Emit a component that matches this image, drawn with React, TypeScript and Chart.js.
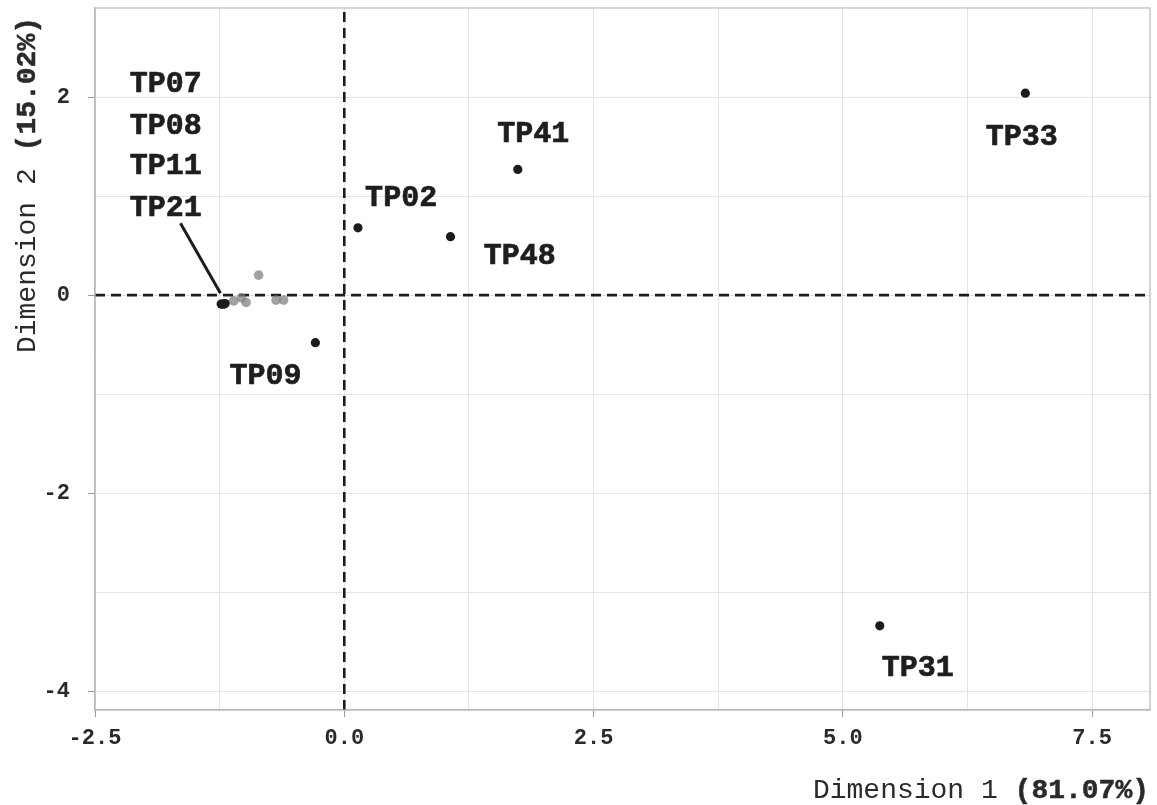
import React, { useEffect, useRef } from "react";
import { Chart, registerables } from "chart.js";

Chart.register(...registerables);

// Labelled (black) individuals
const blackNames = ["TP02", "TP09", "TP31", "TP33", "TP41", "TP48", "TP07", "TP08", "TP11", "TP21"];
const blackX = [0.137, -0.29, 5.37, 6.83, 1.74, 1.065, -1.235, -1.225, -1.205, -1.195];
const blackY = [0.68, -0.48, -3.34, 2.04, 1.27, 0.59, -0.09, -0.09, -0.09, -0.085];

// Unlabelled (grey) individuals
const greyX = [-1.109, -1.032, -0.985, -0.859, -0.684, -0.608];
const greyY = [-0.058, -0.027, -0.074, 0.202, -0.05, -0.05];

// Label texts and their anchor positions (data units, as placed by the repel step)
const labelTexts = ["TP07", "TP08", "TP11", "TP21", "TP41", "TP33", "TP02", "TP48", "TP09", "TP31"];
const labelX = [-1.79, -1.79, -1.79, -1.79, 1.894, 6.795, 0.57, 1.76, -0.79, 5.75];
const labelY = [2.14, 1.71, 1.31, 0.89, 1.635, 1.605, 0.99, 0.40, -0.81, -3.76];

// Leader segment for the TP07/TP08/TP11/TP21 group
const leaderX = [-1.643, -1.242];
const leaderY = [0.727, 0.02];

// Axis settings
const xMin = -2.5;
const xMax = 8.08;
const yMin = -4.19;
const yMax = 2.9;
const xStep = 1.25;
const yStep = 1;
const xTitleRegular = "Dimension 1 ";
const xTitleBold = "(81.07%)";
const yTitleRegular = "Dimension 2 ";
const yTitleBold = "(15.02%)";

const FONT = "'Liberation Mono', 'DejaVu Sans Mono', monospace";

export default function App() {
  const ref = useRef<HTMLCanvasElement | null>(null);

  useEffect(() => {
    document.body.style.margin = "0";
    const canvas = ref.current;
    if (!canvas) return;

    const isMajorX = (v: number) => Math.abs(v / 2.5 - Math.round(v / 2.5)) < 1e-6;
    const isMajorY = (v: number) => Math.abs(v / 2 - Math.round(v / 2)) < 1e-6;

    const overlay = {
      id: "overlay",
      afterDraw(chart: any) {
        const ctx = chart.ctx;
        const { left, right, top, bottom } = chart.chartArea;
        const xs = chart.scales.x;
        const ys = chart.scales.y;
        ctx.save();
        // panel border
        ctx.strokeStyle = "#b8b8b8";
        ctx.lineWidth = 1.2;
        ctx.strokeRect(left, top, right - left, bottom - top);

        // point labels
        ctx.fillStyle = "#1e1e1e";
        ctx.strokeStyle = "#1e1e1e";
        ctx.lineWidth = 0.7;
        ctx.font = `bold 30px ${FONT}`;
        ctx.textAlign = "center";
        ctx.textBaseline = "middle";
        for (let i = 0; i < labelTexts.length; i++) {
          const px = xs.getPixelForValue(labelX[i]);
          const py = ys.getPixelForValue(labelY[i]) + 1;
          ctx.fillText(labelTexts[i], px, py);
          ctx.strokeText(labelTexts[i], px, py);
        }

        // x title (right aligned, mixed weight)
        ctx.fillStyle = "#2a2a2a";
        ctx.strokeStyle = "#2a2a2a";
        ctx.lineWidth = 0.5;
        ctx.textBaseline = "alphabetic";
        ctx.textAlign = "left";
        ctx.font = `bold 28px ${FONT}`;
        const wb = ctx.measureText(xTitleBold).width;
        ctx.font = `28px ${FONT}`;
        const wr = ctx.measureText(xTitleRegular).width;
        const xEnd = 1149;
        const xBase = 798;
        ctx.fillText(xTitleRegular, xEnd - wb - wr, xBase);
        ctx.font = `bold 28px ${FONT}`;
        ctx.fillText(xTitleBold, xEnd - wb, xBase);
        ctx.strokeText(xTitleBold, xEnd - wb, xBase);

        // y title (rotated, top aligned)
        ctx.translate(35, 17);
        ctx.rotate(-Math.PI / 2);
        ctx.font = `bold 28px ${FONT}`;
        const yb = ctx.measureText(yTitleBold).width;
        ctx.font = `28px ${FONT}`;
        const yr = ctx.measureText(yTitleRegular).width;
        ctx.fillText(yTitleRegular, -yb - yr, 0);
        ctx.font = `bold 28px ${FONT}`;
        ctx.fillText(yTitleBold, -yb, 0);
        ctx.strokeText(yTitleBold, -yb, 0);
        ctx.restore();
      },
    };

    const chart = new Chart(canvas, {
      type: "scatter",
      data: {
        datasets: [
          {
            label: "labelled",
            data: blackX.map((x, i) => ({ x, y: blackY[i] })),
            backgroundColor: "#1c1c1c",
            borderWidth: 0,
            pointRadius: 4.6,
            order: 1,
          },
          {
            label: "others",
            data: greyX.map((x, i) => ({ x, y: greyY[i] })),
            backgroundColor: "rgba(125,125,125,0.72)",
            borderWidth: 0,
            pointRadius: 4.8,
            order: 2,
          },
          {
            label: "leader",
            data: leaderX.map((x, i) => ({ x, y: leaderY[i] })),
            showLine: true,
            borderColor: "#1c1c1c",
            borderWidth: 3,
            pointRadius: 0,
            order: 3,
          },
          {
            label: "vzero",
            data: [
              { x: 0, y: yMin },
              { x: 0, y: yMax },
            ],
            showLine: true,
            borderColor: "#1c1c1c",
            borderWidth: 2.6,
            borderDash: [10, 6],
            pointRadius: 0,
            order: 4,
          },
          {
            label: "hzero",
            data: [
              { x: xMin, y: 0 },
              { x: xMax, y: 0 },
            ],
            showLine: true,
            borderColor: "#1c1c1c",
            borderWidth: 2.6,
            borderDash: [10, 6],
            pointRadius: 0,
            order: 5,
          },
        ],
      },
      plugins: [overlay],
      options: {
        animation: false,
        responsive: false,
        maintainAspectRatio: false,
        events: [],
        layout: { padding: { top: 8, right: 7, left: 0, bottom: 0 } },
        plugins: { legend: { display: false }, tooltip: { enabled: false } },
        scales: {
          x: {
            type: "linear",
            min: xMin,
            max: xMax,
            afterFit: (s: any) => {
              s.height = 95;
              s.paddingLeft = 0;
              s.paddingRight = 0;
            },
            ticks: {
              stepSize: xStep,
              includeBounds: false,
              padding: 8,
              color: "#2a2a2a",
              font: { family: FONT, size: 22, weight: "bold" },
              maxRotation: 0,
              autoSkip: false,
              callback: (v: any) => (isMajorX(Number(v)) ? Number(v).toFixed(1) : ""),
            },
            grid: {
              color: "#e4e4e4",
              lineWidth: 1,
              tickLength: 7,
              tickColor: (c: any) => (c.tick && isMajorX(c.tick.value) ? "#9a9a9a" : "rgba(0,0,0,0)"),
            },
            border: { display: true, color: "#b8b8b8", width: 1.2 },
          },
          y: {
            type: "linear",
            min: yMin,
            max: yMax,
            afterFit: (s: any) => {
              s.width = 95;
              s.paddingTop = 0;
              s.paddingBottom = 0;
            },
            ticks: {
              stepSize: yStep,
              includeBounds: false,
              padding: 18,
              color: "#2a2a2a",
              font: { family: FONT, size: 22, weight: "bold" },
              autoSkip: false,
              callback: (v: any) => (isMajorY(Number(v)) ? String(Math.round(Number(v))) : ""),
            },
            grid: {
              color: "#e4e4e4",
              lineWidth: 1,
              tickLength: 7,
              tickColor: (c: any) => (c.tick && isMajorY(c.tick.value) ? "#9a9a9a" : "rgba(0,0,0,0)"),
            },
            border: { display: true, color: "#b8b8b8", width: 1.2 },
          },
        },
      },
    } as any);

    return () => chart.destroy();
  }, []);

  return (
    <div style={{ width: 1157, height: 805 }}>
      <canvas ref={ref} width={1157} height={805} style={{ display: "block", width: 1157, height: 805 }} />
    </div>
  );
}
